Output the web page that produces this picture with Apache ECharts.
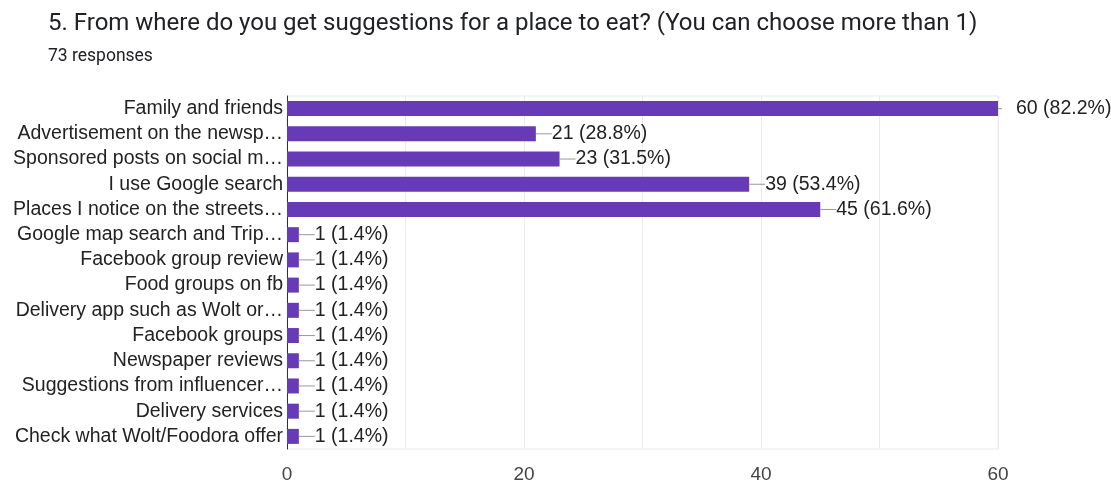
<!DOCTYPE html>
<html>
<head>
<meta charset="utf-8">
<script src="https://cdn.jsdelivr.net/npm/echarts@6/dist/echarts.min.js"></script>
<style>
html,body{margin:0;padding:0;background:#fff;}
#c{width:1111px;height:484px;}
</style>
</head>
<body>
<div id="c"></div>
<script>
const categories = [
  "Family and friends",
  "Advertisement on the newsp…",
  "Sponsored posts on social m…",
  "I use Google search",
  "Places I notice on the streets…",
  "Google map search and Trip…",
  "Facebook group review",
  "Food groups on fb",
  "Delivery app such as Wolt or…",
  "Facebook groups",
  "Newspaper reviews",
  "Suggestions from influencer…",
  "Delivery services",
  "Check what Wolt/Foodora offer"
];
const counts = [60, 21, 23, 39, 45, 1, 1, 1, 1, 1, 1, 1, 1, 1];
const percents = ["82.2%", "28.8%", "31.5%", "53.4%", "61.6%", "1.4%", "1.4%", "1.4%", "1.4%", "1.4%", "1.4%", "1.4%", "1.4%", "1.4%"];
const xTicks = [0, 20, 40, 60];
const titleText = "5. From where do you get suggestions for a place to eat? (You can choose more than 1)";
const subtitleText = "73 responses";

const chart = echarts.init(document.getElementById('c'));
chart.setOption({
  animation: false,
  backgroundColor: '#fff',
  title: {
    text: titleText,
    subtext: subtitleText,
    left: 43, top: 7,
    itemGap: 12,
    textStyle: {fontFamily: 'Roboto', fontSize: 24, fontWeight: 'normal', color: '#202124'},
    subtextStyle: {fontFamily: 'Roboto', fontSize: 17.5, color: '#202124'}
  },
  grid: {left: 287, right: 113, top: 96, bottom: 31, show: true, borderColor: '#ebebeb', borderWidth: 1},
  xAxis: {
    type: 'value', min: 0, max: 60, interval: 10,
    axisLine: {show: false}, axisTick: {show: false},
    splitLine: {lineStyle: {color: '#ebebeb'}},
    axisLabel: {
      fontFamily: 'Liberation Sans', fontSize: 19, color: '#444', margin: 16,
      formatter: v => xTicks.includes(v) ? String(v) : ''
    }
  },
  yAxis: {
    type: 'category', data: categories, inverse: true,
    axisLine: {show: true, lineStyle: {color: '#333', width: 1}},
    axisTick: {show: false},
    axisLabel: {interval: 0, fontFamily: 'Liberation Sans', fontSize: 19.5, color: '#222', margin: 4}
  },
  series: [{
    type: 'bar',
    data: counts,
    barWidth: 15,
    itemStyle: {color: '#673ab7'},
    label: {
      show: true, position: 'right', distance: 0,
      formatter: p => (p.dataIndex === 0 ? '{s|}{g|}' : '{l|}') + '{v|' + counts[p.dataIndex] + ' (' + percents[p.dataIndex] + ')}',
      rich: {
        l: {width: 16, height: 1, backgroundColor: '#999'},
        s: {width: 4, height: 1, backgroundColor: '#999'},
        g: {width: 14, height: 1},
        v: {fontFamily: 'Liberation Sans', fontSize: 19.5, color: '#222'}
      }
    }
  }]
});
</script>
</body>
</html>
